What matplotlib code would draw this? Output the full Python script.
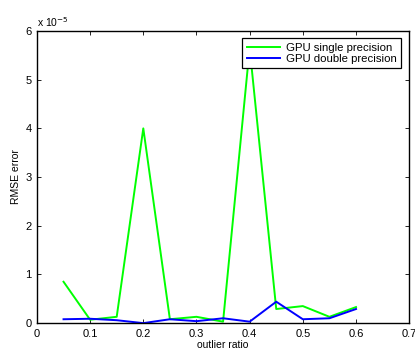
import matplotlib
matplotlib.use("Agg")
import matplotlib.pyplot as plt

plt.rcParams['font.family'] = ['Liberation Sans', 'DejaVu Sans']

outlier_ratio = [0.05, 0.10, 0.15, 0.20, 0.25, 0.30, 0.35, 0.40, 0.45, 0.50, 0.55, 0.60]
# RMSE error in units of 1e-5
gpu_single = [0.85, 0.07, 0.13, 4.0, 0.08, 0.13, 0.03, 5.65, 0.29, 0.35, 0.13, 0.33]
gpu_double = [0.08, 0.09, 0.06, 0.0, 0.08, 0.04, 0.10, 0.03, 0.44, 0.08, 0.10, 0.29]
x_ticks = [0, 0.1, 0.2, 0.3, 0.4, 0.5, 0.6, 0.7]
x_ticklabels = ['0', '0.1', '0.2', '0.3', '0.4', '0.5', '0.6', '0.7']
y_ticks = [0, 1, 2, 3, 4, 5, 6]

fig = plt.figure(figsize=(4.15, 3.52), dpi=100)
ax = fig.add_axes([0.089, 0.082, 0.897, 0.830])

ax.plot(outlier_ratio, gpu_single, color=(0, 1, 0), lw=1.4, label='GPU single precision')
ax.plot(outlier_ratio, gpu_double, color=(0, 0, 1), lw=1.4, label='GPU double precision')

ax.set_xlim(0, 0.7)
ax.set_ylim(0, 6)
ax.set_xticks(x_ticks)
ax.set_xticklabels(x_ticklabels)
ax.set_yticks(y_ticks)
ax.tick_params(direction='in', top=True, right=True, labelsize=8, length=3, width=0.6, pad=4)
for s in ax.spines.values():
    s.set_linewidth(1.0)

ax.set_xlabel('outlier ratio', fontsize=7.5, labelpad=1)
ax.set_ylabel('RMSE error', fontsize=7.5, labelpad=3)
ax.text(0.0, 1.008, 'x 10$^{-5}$', transform=ax.transAxes, fontsize=7.5, ha='left', va='bottom')

leg = ax.legend(loc='upper right', bbox_to_anchor=(0.978, 0.976), fontsize=8.2, frameon=True,
                fancybox=False, edgecolor='black', borderpad=0.4, labelspacing=0.12,
                handlelength=2.9, handletextpad=0.5, borderaxespad=0, framealpha=1)
leg.get_frame().set_linewidth(0.9)

fig.savefig('out.png', dpi=100)
